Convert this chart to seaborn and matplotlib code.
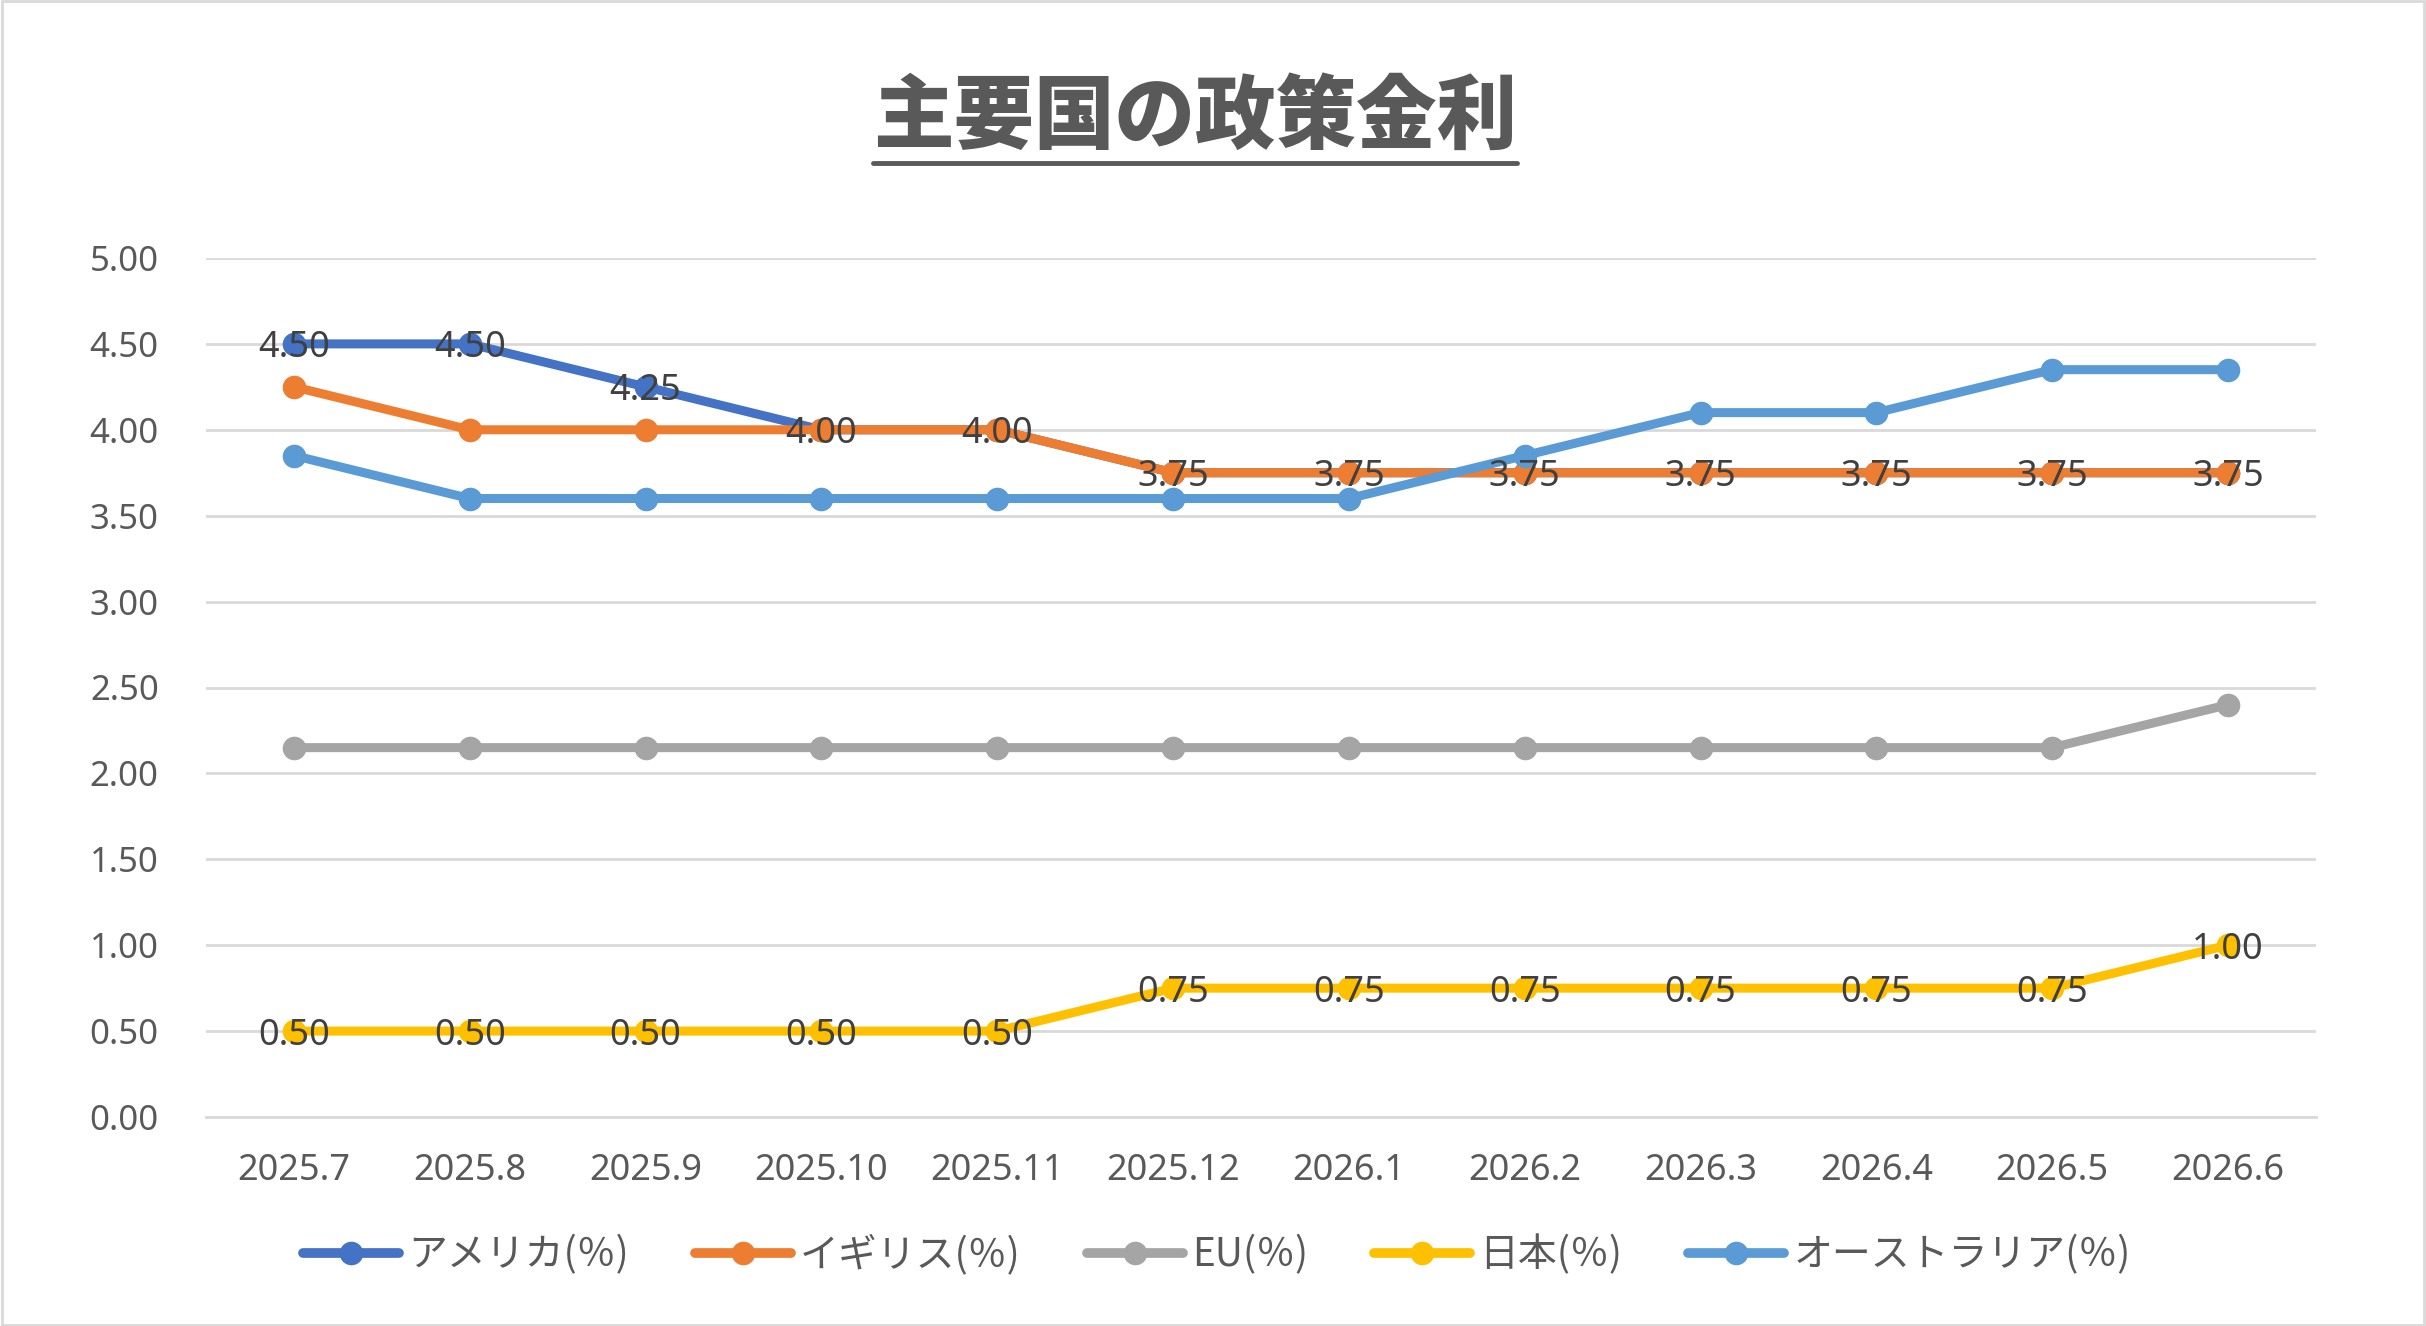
import matplotlib
matplotlib.use("Agg")
import matplotlib.pyplot as plt
import seaborn as sns
import pandas as pd
import numpy as np
from matplotlib.lines import Line2D
from matplotlib.patches import Rectangle

months = ["2025.7", "2025.8", "2025.9", "2025.10", "2025.11", "2025.12",
          "2026.1", "2026.2", "2026.3", "2026.4", "2026.5", "2026.6"]
usa = [4.50, 4.50, 4.25, 4.00, 4.00, 3.75, 3.75, 3.75, 3.75, 3.75, 3.75, 3.75]
uk = [4.25, 4.00, 4.00, 4.00, 4.00, 3.75, 3.75, 3.75, 3.75, 3.75, 3.75, 3.75]
eu = [2.15, 2.15, 2.15, 2.15, 2.15, 2.15, 2.15, 2.15, 2.15, 2.15, 2.15, 2.40]
japan = [0.50, 0.50, 0.50, 0.50, 0.50, 0.75, 0.75, 0.75, 0.75, 0.75, 0.75, 1.00]
australia = [3.85, 3.60, 3.60, 3.60, 3.60, 3.60, 3.60, 3.85, 4.10, 4.10, 4.35, 4.35]
series_names = ["アメリカ(％)", "イギリス(％)", "EU(％)", "日本(％)", "オーストラリア(％)"]
series_values = [usa, uk, eu, japan, australia]
labeled = ["アメリカ(％)", "日本(％)"]
title = "主要国の政策金利"
colors = ["#4472C4", "#ED7D31", "#A5A5A5", "#FFC000", "#5B9BD5"]

sns.set_theme(style="white")
plt.rcParams["font.family"] = ["Noto Sans", "Noto Sans CJK JP", "DejaVu Sans"]
jp = ["Noto Sans CJK JP", "DejaVu Sans"]
num = ["Noto Sans", "DejaVu Sans"]

rows = []
for name, vals in zip(series_names, series_values):
    for i, (m, v) in enumerate(zip(months, vals)):
        rows.append({"month": m, "idx": i, "series": name, "value": v})
df = pd.DataFrame(rows)

fig = plt.figure(figsize=(24.26, 13.26), dpi=100)
ax = fig.add_axes([206 / 2426, 1 - 1117 / 1326, (2316 - 206) / 2426, (1117 - 258) / 1326])

sns.lineplot(data=df, x="idx", y="value", hue="series", hue_order=series_names,
             palette=colors, marker="o", markersize=17, markeredgewidth=0,
             linewidth=6.5, sort=False, ax=ax, legend=True)

for name in labeled:
    sub = df[df["series"] == name]
    for _, r in sub.iterrows():
        ax.text(r["idx"], r["value"], f"{r['value']:.2f}", ha="center", va="center_baseline",
                fontsize=26, color="#404040", zorder=10, family=num)

ax.set_xlim(-0.5, len(months) - 0.5)
ax.set_ylim(0, 5)
yt = np.arange(0, 5.01, 0.5)
ax.set_yticks(yt)
ax.set_yticklabels([f"{v:.2f}" for v in yt], fontsize=25, color="#595959", family=num)
ax.set_xticks(range(len(months)))
ax.set_xticklabels(months, fontsize=26, color="#595959", family=num)
ax.tick_params(axis="y", length=0, pad=34)
ax.tick_params(axis="x", length=0, pad=26)
ax.grid(axis="y", color="#D9D9D9", linewidth=2)
ax.set_axisbelow(True)
for s in ["left", "right", "top"]:
    ax.spines[s].set_visible(False)
ax.spines["bottom"].set_color("#D9D9D9")
ax.spines["bottom"].set_linewidth(2)
ax.set_xlabel("")
ax.set_ylabel("")

handles, labels = ax.get_legend_handles_labels()
for h in handles:
    h.set_linewidth(7)
    h.set_markersize(17)
    h.set_solid_capstyle("round")
leg = ax.legend(handles, labels, loc="center",
                bbox_to_anchor=((1217 - 206) / 2110, -(1255 - 1117) / (1117 - 258)),
                ncol=5, frameon=False, prop={"family": jp, "size": 28},
                handlelength=2.47, handletextpad=0.23, columnspacing=1.7)
for t in leg.get_texts():
    t.set_color("#595959")

ttl = fig.text(1195 / 2426, 1 - 118 / 1326, title, ha="center", va="center",
               fontsize=58, fontweight="black", color="#595959", family=jp)
fig.canvas.draw()
bb = ttl.get_window_extent()
fig.add_artist(Line2D([bb.x0 / 2426, bb.x1 / 2426], [(bb.y0 - 4) / 1326] * 2,
                      color="#595959", linewidth=3.5, transform=fig.transFigure))

fig.add_artist(Rectangle((0.001, 0.001), 0.998, 0.998, transform=fig.transFigure,
                         fill=False, edgecolor="#D9D9D9", linewidth=2))

fig.savefig("out.png", dpi=100)
